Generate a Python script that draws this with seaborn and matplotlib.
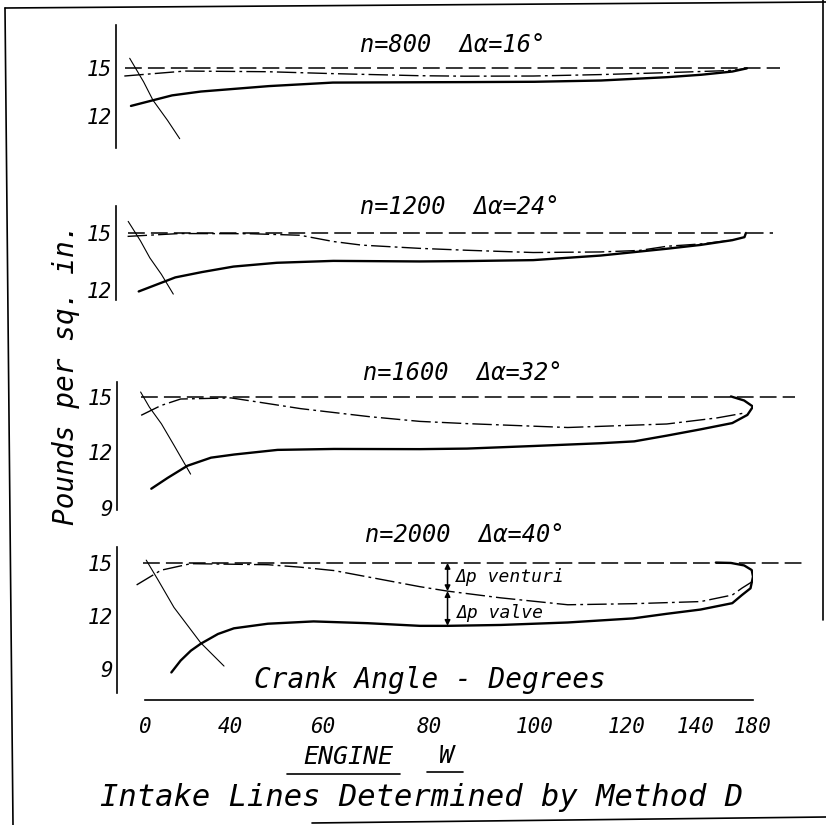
import numpy as np
import matplotlib
matplotlib.use("Agg")
import matplotlib.pyplot as plt
from matplotlib.lines import Line2D
from matplotlib.ticker import FixedLocator, FixedFormatter, NullLocator
import seaborn as sns

# ------------------------------------------------------------------ data
SPEEDS_RPM = [800, 1200, 1600, 2000]
DELTA_ALPHA_DEG = [16, 24, 32, 40]
ATM_PSI = 15.0

# n = 800
CYL_DEG_800 = [-16, 12, 22, 32, 49, 62, 78, 87, 100, 114, 131, 142, 156, 167]
CYL_PSI_800 = [12.63, 12.99, 13.29, 13.53, 13.87, 14.09, 14.11, 14.12, 14.14, 14.22, 14.43, 14.58, 14.78, 14.98]
MAN_DEG_800 = [-19.4, 26.9, 48.6, 62, 78.2, 86.5, 99.7, 113.9, 130.8, 156, 167]
MAN_PSI_800 = [14.5, 14.81, 14.77, 14.65, 14.52, 14.49, 14.5, 14.59, 14.71, 14.85, 14.98]
EXP_DEG_800 = [-16.7, -5.5, 11.7, 20, 25]
EXP_PSI_800 = [15.61, 14.14, 12.99, 11.73, 10.58]

# n = 1200
CYL_DEG_1200 = [-10.8, 23.3, 32.3, 40.8, 50.7, 62.1, 78.2, 86.9, 99.7, 113.9, 130.8, 141.7, 156, 164.6, 166]
CYL_PSI_1200 = [11.92, 12.66, 12.94, 13.23, 13.43, 13.53, 13.5, 13.52, 13.57, 13.81, 14.17, 14.37, 14.62, 14.78, 15.0]
MAN_DEG_1200 = [-17.8, 25, 44.8, 55.5, 62.1, 67.5, 78.2, 86.9, 99.7, 113.9, 123.3, 130.8, 141.7, 156]
MAN_PSI_1200 = [14.82, 14.97, 14.96, 14.88, 14.55, 14.36, 14.19, 14.09, 13.97, 14.0, 14.08, 14.3, 14.42, 14.62]
EXP_DEG_1200 = [-17.5, -9.3, 9, 17, 22.5]
EXP_PSI_1200 = [15.61, 14.59, 13.69, 12.82, 11.78]

# n = 1600
CYL_DEG_1600 = [9.5, 19.7, 27.4, 34.7, 40.8, 50.7, 62.1, 78.2, 86.9, 99.7, 113.9, 121.9, 130.7, 141.7, 156, 167.5, 180, 195.7, 204.8]
CYL_PSI_1600 = [10.04, 10.63, 11.28, 11.72, 11.89, 12.14, 12.19, 12.18, 12.21, 12.35, 12.5, 12.6, 12.91, 13.25, 13.59, 14.03, 14.48, 14.81, 15.03]
MAN_DEG_1600 = [-9.5, 16.3, 25, 40, 45.5, 55.5, 68.7, 78.2, 86.9, 106.7, 130.7, 148.4, 164.3]
MAN_PSI_1600 = [14.01, 14.54, 14.89, 14.95, 14.76, 14.37, 13.94, 13.68, 13.56, 13.35, 13.54, 13.87, 14.13]
EXP_DEG_1600 = [-10, 7.5, 16.5, 22.5, 28.5]
EXP_PSI_1600 = [15.27, 14.45, 13.55, 12.37, 10.83]

# n = 2000
CYL_DEG_2000 = [21.3, 25, 28.6, 31.7, 36.6, 40.7, 48.6, 58.1, 68.5, 78.2, 83.3, 93.3, 106.7, 121.6, 130.7, 141.7, 156, 162.5, 171.7, 180, 186, 195.7, 204.8, 212.2]
CYL_PSI_2000 = [8.82, 9.49, 10.05, 10.44, 10.99, 11.31, 11.57, 11.70, 11.6, 11.45, 11.45, 11.5, 11.64, 11.87, 12.13, 12.37, 12.73, 13.19, 13.57, 14.23, 14.6, 14.86, 15.0, 15.02]
MAN_DEG_2000 = [-13.1, 16.3, 28.6, 48.6, 55.5, 62.1, 78.2, 83.3, 93.3, 106.7, 121.6, 141.7, 156, 162.5, 176]
MAN_PSI_2000 = [13.76, 14.59, 14.96, 14.9, 14.76, 14.57, 13.66, 13.41, 13.03, 12.64, 12.7, 12.82, 13.19, 13.58, 13.95]
EXP_DEG_2000 = [0, 14.6, 22.4, 31.7, 38.2]
EXP_PSI_2000 = [15.16, 14.03, 12.49, 10.49, 9.18]

ANNOT_DEG = 83.3   # where the Δp arrows are drawn (n = 2000)

Y_TICKS = [[15, 12], [15, 12], [15, 12, 9], [15, 12, 9]]
X_TICKS_DEG = [0, 10, 15, 20, 30, 40, 50, 60, 70, 80, 90, 100, 110, 120, 130, 140, 150, 160, 170, 180]
X_TICK_LABELS = {0: "0", 40: "40", 60: "60", 80: "80", 100: "100", 120: "120", 140: "140", 180: "180"}

PANELS = [
    (CYL_DEG_800, CYL_PSI_800, MAN_DEG_800, MAN_PSI_800, EXP_DEG_800, EXP_PSI_800),
    (CYL_DEG_1200, CYL_PSI_1200, MAN_DEG_1200, MAN_PSI_1200, EXP_DEG_1200, EXP_PSI_1200),
    (CYL_DEG_1600, CYL_PSI_1600, MAN_DEG_1600, MAN_PSI_1600, EXP_DEG_1600, EXP_PSI_1600),
    (CYL_DEG_2000, CYL_PSI_2000, MAN_DEG_2000, MAN_PSI_2000, EXP_DEG_2000, EXP_PSI_2000),
]

# ------------------------------------------------------------------ crank-angle axis (piston travel scale)
CRANK_RATIO = 0.22  # crank radius / connecting-rod length


def stroke_fraction(theta):
    t = np.asarray(theta, dtype=float)
    r = np.radians(np.abs(t))
    s = ((1 - np.cos(r)) + (1 - np.sqrt(1 - (CRANK_RATIO * np.sin(r)) ** 2)) / CRANK_RATIO) / 2
    return np.where(t < 0, -s, s)


_GRID = np.linspace(0, 180, 3601)
_GRID_F = stroke_fraction(_GRID)


def crank_from_fraction(f):
    f = np.asarray(f, dtype=float)
    return np.sign(f) * np.interp(np.abs(f), _GRID_F, _GRID)


# ------------------------------------------------------------------ style
sns.set_style("white")
plt.rcParams["font.family"] = ["DejaVu Sans Mono", "DejaVu Sans"]
plt.rcParams["font.style"] = "italic"

W, H = 826, 825
fig = plt.figure(figsize=(W / 100, H / 100), dpi=100)


def frac_rect(l, t, r, b):
    return [l / W, 1 - b / H, (r - l) / W, (b - t) / H]


PANEL_BOXES = [(116, 25, 753, 148), (116, 206, 753, 300), (117, 382, 753, 510), (117, 547, 753, 693)]
PANEL_YLIMS = [(10.0, 17.69), (11.47, 16.42), (8.89, 15.81), (7.66, 15.9)]
ATM_SPAN = [(0.014, 1.042), (0.019, 1.031), (0.038, 1.066), (0.041, 1.077)]
TITLE_POS = [(453, 45), (460, 207), (463, 373), (465, 535)]

DASH = (0, (11, 4))
DASHDOT = (0, (14, 3, 2, 3))
INK = "black"

axes = []
for i, (box, ylim, span, (cd, cp, md, mp, ed, ep)) in enumerate(zip(PANEL_BOXES, PANEL_YLIMS, ATM_SPAN, PANELS)):
    ax = fig.add_axes(frac_rect(*box))
    ax.patch.set_alpha(0)
    ax.set_xscale("function", functions=(stroke_fraction, crank_from_fraction))
    ax.axhline(ATM_PSI, xmin=span[0], xmax=span[1], color=INK, lw=1.1, linestyle=DASH, clip_on=False)
    sns.lineplot(x=md, y=mp, ax=ax, color=INK, lw=1.0, linestyle=DASHDOT, estimator=None, sort=False)
    sns.lineplot(x=cd, y=cp, ax=ax, color=INK, lw=1.7, estimator=None, sort=False)
    sns.lineplot(x=ed, y=ep, ax=ax, color=INK, lw=0.8, estimator=None, sort=False)
    ax.set_xlim(-23, 180)
    ax.set_ylim(*ylim)
    ax.set_xlabel("")
    ax.set_ylabel("")
    for s in ("top", "right", "bottom"):
        ax.spines[s].set_visible(False)
    ax.spines["left"].set_color(INK)
    ax.spines["left"].set_linewidth(1.2)
    ax.xaxis.set_major_locator(NullLocator())
    ax.xaxis.set_minor_locator(NullLocator())
    ax.set_yticks(Y_TICKS[i])
    ax.set_yticklabels([str(v) for v in Y_TICKS[i]])
    ax.tick_params(axis="y", length=0, pad=3, labelsize=15, labelcolor=INK)
    ax.grid(False)
    tx, ty = TITLE_POS[i]
    fig.text(tx / W, 1 - ty / H,
             f"n={SPEEDS_RPM[i]}  \u0394\u03b1={DELTA_ALPHA_DEG[i]}\u00b0",
             ha="center", va="center", fontsize=17, color=INK)
    axes.append(ax)

# Δp arrows on the n = 2000 panel
ax4 = axes[3]
man_at = float(np.interp(ANNOT_DEG, MAN_DEG_2000, MAN_PSI_2000))
cyl_at = float(np.interp(ANNOT_DEG, CYL_DEG_2000[:12], CYL_PSI_2000[:12]))
arrow = dict(arrowstyle="<|-|>", color=INK, lw=1.1, mutation_scale=8, shrinkA=0, shrinkB=0)
ax4.annotate("", xy=(ANNOT_DEG, ATM_PSI), xytext=(ANNOT_DEG, man_at), arrowprops=arrow)
ax4.annotate("", xy=(ANNOT_DEG, man_at), xytext=(ANNOT_DEG, cyl_at), arrowprops=arrow)
ax4.annotate("\u0394p venturi", xy=(ANNOT_DEG, (ATM_PSI + man_at) / 2), xytext=(6, 0),
             textcoords="offset points", va="center", ha="left", fontsize=13, color=INK)
ax4.annotate("\u0394p valve", xy=(ANNOT_DEG, (man_at + cyl_at) / 2), xytext=(7, -3),
             textcoords="offset points", va="center", ha="left", fontsize=13, color=INK)

# common crank-angle scale
axx = fig.add_axes(frac_rect(116, 699, 753, 700))
axx.patch.set_alpha(0)
axx.set_xscale("function", functions=(stroke_fraction, crank_from_fraction))
axx.set_xlim(-23, 180)
for s in ("top", "right", "left"):
    axx.spines[s].set_visible(False)
axx.spines["bottom"].set_bounds(0, 180)
axx.spines["bottom"].set_linewidth(1.2)
axx.spines["bottom"].set_color(INK)
axx.yaxis.set_major_locator(NullLocator())
axx.xaxis.set_major_locator(FixedLocator(X_TICKS_DEG))
axx.xaxis.set_major_formatter(FixedFormatter([X_TICK_LABELS.get(t, "") for t in X_TICKS_DEG]))
axx.xaxis.set_minor_locator(FixedLocator([0, 180]))
axx.xaxis.remove_overlapping_locs = False
axx.tick_params(axis="x", which="major", direction="out", length=8, width=1.0, pad=4,
                labelsize=15, colors=INK)
axx.tick_params(axis="x", which="minor", direction="inout", length=14, width=1.0)

# texts
fig.text(430 / W, 1 - 680 / H, "Crank Angle - Degrees", ha="center", va="center", fontsize=20, color=INK)
fig.text(66 / W, 1 - 374 / H, "Pounds per sq. in.", rotation=90, ha="center", va="center", fontsize=20, color=INK)
fig.text(348 / W, 1 - 757 / H, "ENGINE", ha="center", va="center", fontsize=18, color=INK)
fig.text(446 / W, 1 - 756 / H, "W", ha="center", va="center", fontsize=18, color=INK)
fig.text(422 / W, 1 - 797 / H, "Intake Lines Determined by Method D", ha="center", va="center",
         fontsize=22, color=INK)

# underlines and drawing border
def fig_line(x0, y0, x1, y1, lw=1.2):
    fig.add_artist(Line2D([x0 / W, x1 / W], [1 - y0 / H, 1 - y1 / H], transform=fig.transFigure,
                          color=INK, lw=lw))


fig_line(287, 774, 400, 774)
fig_line(427, 772, 463, 772)
fig_line(5, 8, 13, 825)
fig_line(5, 8, 826, 2)
fig_line(823, 0, 823, 620)
fig_line(312, 823, 826, 817)

fig.savefig("out.png", dpi=100)
